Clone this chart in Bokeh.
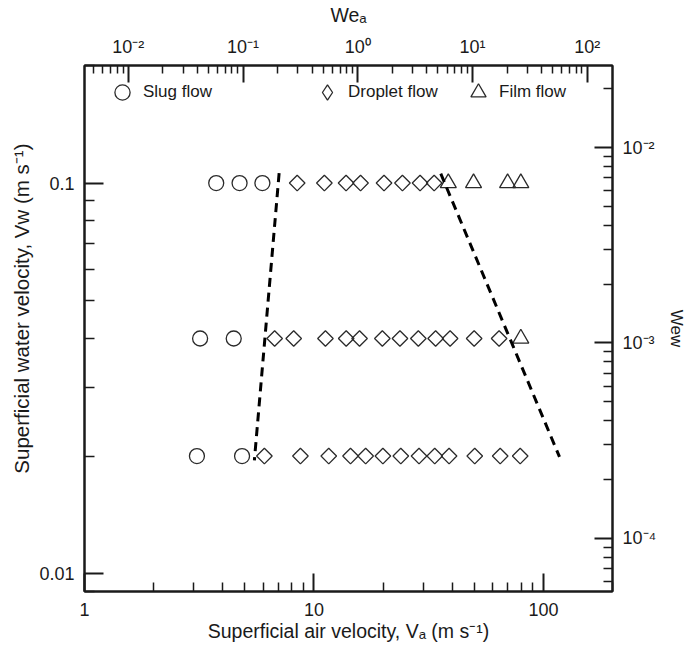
import math
from bokeh.plotting import figure
from bokeh.models import (Range1d, LogScale, LogAxis, FixedTicker,
                          CustomJSTickFormatter, Legend, LegendItem)
from bokeh.embed import file_html
from bokeh.resources import INLINE

# Superficial air (Va) and water (Vw) velocities of each run, in m/s, by flow regime
slug_va = [3.75, 4.74, 5.96, 3.19, 4.47, 3.09, 4.86]
slug_vw = [0.1, 0.1, 0.1, 0.04, 0.04, 0.02, 0.02]

droplet_va = [8.45, 11.1, 13.8, 15.96, 20.2, 24.3, 29.0, 33.4,
              6.74, 8.16, 11.22, 13.82, 15.8, 19.86, 23.7, 28.5, 33.9, 39.2, 49.9, 64.1,
              6.08, 8.73, 11.6, 14.43, 16.8, 19.97, 23.9, 28.7, 33.6, 38.8, 50.2, 64.8, 79.2]
droplet_vw = [0.1] * 8 + [0.04] * 12 + [0.02] * 13

film_va = [38.5, 49.6, 69.8, 79.7, 79.7]
film_vw = [0.1, 0.1, 0.1, 0.1, 0.04]

# Regime boundaries (dashed)
slug_droplet_va = [7.05, 5.50]
slug_droplet_vw = [0.106, 0.0195]
droplet_film_va = [35.7, 117.5]
droplet_film_vw = [0.1057, 0.0199]

# Axis extents
va_range = (1.0, 200.0)
vw_range = (0.009, 0.2)

# Weber numbers grow with the square of the velocity
WE_A_PER_VA2 = 0.00415
WE_W_PER_VW2 = 0.658

va_ticks = [1, 10, 100]
va_tick_labels = ["1", "10", "100"]
vw_ticks = [0.01, 0.1]
vw_tick_labels = ["0.01", "0.1"]
wea_ticks = [1e-2, 1e-1, 1e0, 1e1, 1e2]
wea_tick_labels = ["10\u207b\u00b2", "10\u207b\u00b9", "10\u2070", "10\u00b9", "10\u00b2"]
wew_ticks = [1e-4, 1e-3, 1e-2]
wew_tick_labels = ["10\u207b\u2074", "10\u207b\u00b3", "10\u207b\u00b2"]

x_title = "Superficial air velocity, V\u2090 (m s\u207b\u00b9)"
y_title = "Superficial water velocity, V\u1d21 (m s\u207b\u00b9)"
top_title = "We\u2090"
right_title = "We\u1d21"

FONT = "Liberation Sans"
INK = "#1a1a1a"

wea_range = (WE_A_PER_VA2 * va_range[0] ** 2, WE_A_PER_VA2 * va_range[1] ** 2)
wew_range = (WE_W_PER_VW2 * vw_range[0] ** 2, WE_W_PER_VW2 * vw_range[1] ** 2)


def log_minor(lo, hi):
    out = []
    for e in range(int(math.floor(math.log10(lo))) - 1, int(math.ceil(math.log10(hi))) + 1):
        for m in range(2, 10):
            v = m * 10.0 ** e
            if lo <= v <= hi:
                out.append(v)
    return out


def log_formatter(ticks, labels):
    return CustomJSTickFormatter(args=dict(tv=ticks, tl=labels), code="""
        for (let i = 0; i < tv.length; i++) {
            if (Math.abs(Math.log10(tick / tv[i])) < 1e-6) { return tl[i]; }
        }
        return "";
    """)


W, H = 692, 646
p = figure(width=W, height=H, x_axis_type="log", y_axis_type="log",
           x_range=Range1d(*va_range), y_range=Range1d(*vw_range),
           toolbar_location=None, output_backend="svg",
           min_border_left=84, min_border_right=80, min_border_top=65, min_border_bottom=55)
p.grid.visible = False
p.outline_line_color = INK
p.outline_line_width = 2
p.background_fill_color = "white"
p.border_fill_color = "white"

p.extra_x_ranges = {"wea": Range1d(*wea_range)}
p.extra_x_scales = {"wea": LogScale()}
p.extra_y_ranges = {"wew": Range1d(*wew_range)}
p.extra_y_scales = {"wew": LogScale()}

bottom_axis = p.below[0]
left_axis = p.left[0]
top_axis = LogAxis(x_range_name="wea")
right_axis = LogAxis(y_range_name="wew")
p.add_layout(top_axis, "above")
p.add_layout(right_axis, "right")


def style(ax, ticks, labels, lo, hi, standoff, title, title_size, title_standoff,
          major_in=17, minor_in=8):
    ax.ticker = FixedTicker(ticks=ticks, minor_ticks=log_minor(lo, hi))
    ax.formatter = log_formatter(ticks, labels)
    ax.axis_line_color = INK
    ax.axis_line_width = 2
    ax.major_tick_in = major_in
    ax.major_tick_out = 0
    ax.minor_tick_in = minor_in
    ax.minor_tick_out = 0
    ax.major_tick_line_color = INK
    ax.major_tick_line_width = 2
    ax.minor_tick_line_color = INK
    ax.minor_tick_line_width = 1.5
    ax.major_label_text_font = FONT
    ax.major_label_text_font_size = "18px"
    ax.major_label_text_color = INK
    ax.major_label_standoff = standoff
    ax.axis_label = title
    ax.axis_label_text_font = FONT
    ax.axis_label_text_font_size = title_size
    ax.axis_label_text_font_style = "normal"
    ax.axis_label_text_color = INK
    ax.axis_label_standoff = title_standoff


# the water-velocity title sits a little above the middle of the axis: pad its start
NBSP = "\u00a0"
style(bottom_axis, va_ticks, va_tick_labels, *va_range, 11, x_title, "19.5px", 1, 18, 9)
style(left_axis, vw_ticks, vw_tick_labels, *vw_range, 10, NBSP * 7 + y_title, "20.5px", 3, 19, 10)
style(top_axis, wea_ticks, wea_tick_labels, *wea_range, 9, top_title, "19.5px", 8)
style(right_axis, wew_ticks, wew_tick_labels, *wew_range, 10, right_title, "17px", 8, 18, 9)

# Measurements, one marker type per regime
mk = dict(fill_color=None, line_color="#2a2a2a", line_width=1.3)
r_slug = p.scatter(slug_va, slug_vw, marker="circle", size=15, **mk)
r_drop = p.scatter(droplet_va, droplet_vw, marker="square", angle=math.pi / 4, size=11, **mk)
r_film = p.scatter(film_va, film_vw, marker="triangle", size=16, **mk)
# legend key for the droplet regime (legend keys are never rotated); nothing plotted
r_drop_key = p.scatter([float("nan")], [float("nan")], marker="diamond", size=15, **mk)

# Regime boundaries
p.line(slug_droplet_va, slug_droplet_vw, line_color="black", line_width=3, line_dash="9 6")
p.line(droplet_film_va, droplet_film_vw, line_color="black", line_width=3, line_dash="9 6")

# Legend, one entry per regime placed along the top of the frame
legend_spots = [(19, "Slug flow", r_slug), (224, "Droplet flow", r_drop_key), (375, "Film flow", r_film)]
for lx, name, rend in legend_spots:
    lg = Legend(items=[LegendItem(label=name, renderers=[rend])], location=(lx, 480),
                orientation="horizontal", glyph_width=38, glyph_height=38, label_standoff=2,
                padding=0, margin=0, border_line_color=None, background_fill_alpha=0,
                label_text_font=FONT, label_text_font_size="17px", label_text_color=INK)
    p.add_layout(lg)

open("out.html", "w").write(file_html(p, INLINE))
